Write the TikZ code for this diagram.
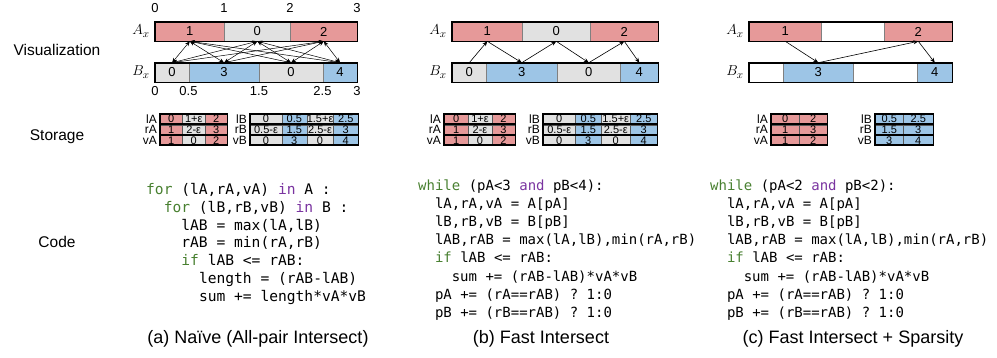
\documentclass[tikz,border=0pt]{standalone}
\usepackage{fontspec}
\setmainfont{Liberation Sans}
\setmonofont{DejaVu Sans Mono}
\usetikzlibrary{arrows.meta}

\definecolor{segred}{RGB}{230,153,153}
\definecolor{segblue}{RGB}{157,197,230}
\definecolor{seggray}{RGB}{225,225,225}
\definecolor{kwgreen}{RGB}{72,128,48}
\definecolor{kwpurple}{RGB}{122,52,160}

\tikzset{
  seg/.style={draw=gray, line width=0.6pt, inner sep=0pt, minimum height=19pt,
    anchor=west, font=\fontsize{13}{13}\selectfont},
  cell/.style={draw=gray!70!black, line width=0.6pt, inner sep=0pt, minimum height=9.3pt,
    text height=8pt, text depth=0pt, anchor=west, font=\fontsize{11}{11}\selectfont},
  rowlbl/.style={anchor=east, inner sep=0pt, text height=8.5pt, text depth=0pt,
    font=\fontsize{12}{12}\selectfont},
  tick/.style={inner sep=0pt, font=\fontsize{13}{13}\selectfont},
  axname/.style={inner sep=0pt, font=\fontsize{15}{15}\selectfont},
  frame/.style={line width=1.6pt},
  pass/.style={-{Stealth[length=5pt,width=4pt]}, line width=0.6pt},
  both/.style={{Stealth[length=5pt,width=4pt]}-{Stealth[length=5pt,width=4pt]}, line width=0.5pt},
  code/.style={anchor=base west, inner sep=0pt},
  title/.style={inner sep=0pt, font=\fontsize{15.5}{15.5}\selectfont},
  caption/.style={inner sep=0pt, font=\fontsize{18}{18}\selectfont},
}
\newcommand{\kw}[1]{\textcolor{kwgreen}{#1}}
\newcommand{\op}[1]{\textcolor{kwpurple}{#1}}
% one storage row: name, y, label, number of cells, cells
\newcommand{\storerow}[5]{%
  \foreach \xa/\xb/\v/\c [count=\k] in {#5}
    \node[cell, fill=\c, minimum width={\xb-\xa}] (#1-\k) at (\xa,#2) {\v};
  \draw[frame] (#1-1.north west) rectangle (#1-#4.south east);
  \node[rowlbl] (#1-lbl) at ([xshift=-3pt]#1-1.west) {#3};
}

\begin{document}
\begin{tikzpicture}[x=1pt,y=-1pt]
  \useasboundingbox (0,0) rectangle (997,357);

  % row titles
  \node[title] (vis) at (57,50) {Visualization};
  \node[title] (sto) at (57,137) {Storage};
  \node[title] (cod) at (57,242) {Code};

  %%%% (a) naive
  \foreach \nm/\xa/\xb/\v/\c in {A1/155/224/1/segred, A0/224/290/0/seggray, A2/290/357/2/segred}
    \node[seg, fill=\c, minimum width={\xb-\xa}] (a\nm) at (\xa,31.5) {\v};
  \foreach \nm/\xa/\xb/\v/\c in {B0/155/188.5/0/seggray, B3/188.5/259/3/segblue,
      B0b/259/322.5/0/seggray, B4/322.5/357/4/segblue}
    \node[seg, fill=\c, minimum width={\xb-\xa}] (a\nm) at (\xa,72.5) {\v};
  \draw[frame] (aA1.north west) rectangle (aA2.south east);
  \draw[frame] (aB0.north west) rectangle (aB4.south east);
  \node[axname] (aAx) at (141,31) {$A_x$};
  \node[axname] (aBx) at (141,72) {$B_x$};
  \foreach \x/\t [count=\i] in {155/0, 224/1, 290/2, 357/3}
    \node[tick] (aTop\i) at (\x,8) {\t};
  \foreach \x/\t [count=\i] in {155/0, 188.5/0.5, 259/1.5, 322.5/2.5, 357/3}
    \node[tick] (aBot\i) at (\x,91) {\t};
  % all pairs
  \foreach \s in {aA1,aA0,aA2}
    \foreach \t in {aB0,aB3,aB0b,aB4}
      \draw[both] (\s.south) -- (\t.north);

  % storage (a)
  \storerow{alA}{118.8}{lA}{3}{160/182/0/segred, 182/205/1+ε/seggray, 205/227/2/segred}
  \storerow{arA}{129.5}{rA}{3}{160/182/1/segred, 182/205/2-ε/seggray, 205/227/3/segred}
  \storerow{avA}{140.2}{vA}{3}{160/182/1/segred, 182/205/0/seggray, 205/227/2/segred}
  \storerow{alB}{118.8}{lB}{4}{250/281.5/0/seggray, 281.5/306.5/0.5/segblue, 306.5/333/1.5+ε/seggray, 333/358/2.5/segblue}
  \storerow{arB}{129.5}{rB}{4}{250/281.5/0.5-ε/seggray, 281.5/306.5/1.5/segblue, 306.5/333/2.5-ε/seggray, 333/358/3/segblue}
  \storerow{avB}{140.2}{vB}{4}{250/281.5/0/seggray, 281.5/306.5/3/segblue, 306.5/333/0/seggray, 333/358/4/segblue}

  % code (a)
  \foreach \n/\ind/\txt in {
      0/0/{\kw{for} (lA,rA,vA) \op{in} A :},
      1/2/{\kw{for} (lB,rB,vB) \op{in} B :},
      2/4/{lAB = max(lA,lB)},
      3/4/{rAB = min(rA,rB)},
      4/4/{\kw{if} lAB <= rAB:},
      5/6/{length = (rAB-lAB)},
      6/6/{sum += length*vA*vB}}
    \node[code, font=\ttfamily\fontsize{14.6}{14.6}\selectfont] (aCode\n) at (146+\ind*8.8,194.5+\n*17.8) {\txt};

  \node[caption] (capA) at (258,339) {(a) Naïve (All-pair Intersect)};

  %%%% (b) fast intersect
  \foreach \nm/\xa/\xb/\v/\c in {A1/452/522/1/segred, A0/522/590/0/seggray, A2/590/658/2/segred}
    \node[seg, fill=\c, minimum width={\xb-\xa}] (b\nm) at (\xa,31.5) {\v};
  \foreach \nm/\xa/\xb/\v/\c in {B0/452/486/0/seggray, B3/486/557/3/segblue,
      B0b/557/620/0/seggray, B4/620/658/4/segblue}
    \node[seg, fill=\c, minimum width={\xb-\xa}] (b\nm) at (\xa,72.5) {\v};
  \draw[frame] (bA1.north west) rectangle (bA2.south east);
  \draw[frame] (bB0.north west) rectangle (bB4.south east);
  \node[axname] (bAx) at (438,31) {$A_x$};
  \node[axname] (bBx) at (438,72) {$B_x$};
  \foreach \s/\t in {bB0/bA1, bB3/bA0, bB0b/bA2}
    \draw[pass] (\s.north) -- (\t.south);
  \foreach \s/\t in {bA1/bB3, bA0/bB0b, bA2/bB4}
    \draw[pass] (\s.south) -- (\t.north);

  % storage (b)
  \storerow{blA}{118.8}{lA}{3}{444/468/0/segred, 468/491.5/1+ε/seggray, 491.5/515/2/segred}
  \storerow{brA}{129.5}{rA}{3}{444/468/1/segred, 468/491.5/2-ε/seggray, 491.5/515/3/segred}
  \storerow{bvA}{140.2}{vA}{3}{444/468/1/segred, 468/491.5/0/seggray, 491.5/515/2/segred}
  \storerow{blB}{118.8}{lB}{4}{543/575/0/seggray, 575/601/0.5/segblue, 601/630/1.5+ε/seggray, 630/657/2.5/segblue}
  \storerow{brB}{129.5}{rB}{4}{543/575/0.5-ε/seggray, 575/601/1.5/segblue, 601/630/2.5-ε/seggray, 630/657/3/segblue}
  \storerow{bvB}{140.2}{vB}{4}{543/575/0/seggray, 575/601/3/segblue, 601/630/0/seggray, 630/657/4/segblue}

  % code (b)
  \foreach \n/\ind/\txt in {
      0/0/{\kw{while} (pA<3 \op{and} pB<4):},
      1/2/{lA,rA,vA = A[pA]},
      2/2/{lB,rB,vB = B[pB]},
      3/2/{lAB,rAB = max(lA,lB),min(rA,rB)},
      4/2/{\kw{if} lAB <= rAB:},
      5/4/{sum += (rAB-lAB)*vA*vB},
      6/2/{pA += (rA==rAB) ? 1:0},
      7/2/{pB += (rB==rAB) ? 1:0}}
    \node[code, font=\ttfamily\fontsize{14}{14}\selectfont] (bCode\n) at (418+\ind*8.4,190+\n*18.2) {\txt};

  \node[caption] (capB) at (541,339) {(b) Fast Intersect};

  %%%% (c) fast intersect + sparsity
  \foreach \nm/\xa/\xb/\v/\c in {A1/749/821/1/segred, A0/821/884//white, A2/884/952/2/segred}
    \node[seg, fill=\c, minimum width={\xb-\xa}] (c\nm) at (\xa,31.5) {\v};
  \foreach \nm/\xa/\xb/\v/\c in {B0/749/783//white, B3/783/853/3/segblue,
      B0b/853/917//white, B4/917/952/4/segblue}
    \node[seg, fill=\c, minimum width={\xb-\xa}] (c\nm) at (\xa,72.5) {\v};
  \draw[frame] (cA1.north west) rectangle (cA2.south east);
  \draw[frame] (cB0.north west) rectangle (cB4.south east);
  \node[axname] (cAx) at (735,31) {$A_x$};
  \node[axname] (cBx) at (735,72) {$B_x$};
  \draw[pass] (cA1.south) -- (cB3.north);
  \draw[pass] (cB3.north) -- (cA2.south);
  \draw[pass] (cA2.south) -- (cB4.north);

  % storage (c)
  \storerow{clA}{118.8}{lA}{2}{771/799/0/segred, 799/827/2/segred}
  \storerow{crA}{129.5}{rA}{2}{771/799/1/segred, 799/827/3/segred}
  \storerow{cvA}{140.2}{vA}{2}{771/799/1/segred, 799/827/2/segred}
  \storerow{clB}{118.8}{lB}{2}{875/903/0.5/segblue, 903/933/2.5/segblue}
  \storerow{crB}{129.5}{rB}{2}{875/903/1.5/segblue, 903/933/3/segblue}
  \storerow{cvB}{140.2}{vB}{2}{875/903/3/segblue, 903/933/4/segblue}

  % code (c)
  \foreach \n/\ind/\txt in {
      0/0/{\kw{while} (pA<2 \op{and} pB<2):},
      1/2/{lA,rA,vA = A[pA]},
      2/2/{lB,rB,vB = B[pB]},
      3/2/{lAB,rAB = max(lA,lB),min(rA,rB)},
      4/2/{\kw{if} lAB <= rAB:},
      5/4/{sum += (rAB-lAB)*vA*vB},
      6/2/{pA += (rA==rAB) ? 1:0},
      7/2/{pB += (rB==rAB) ? 1:0}}
    \node[code, font=\ttfamily\fontsize{14}{14}\selectfont] (cCode\n) at (710+\ind*8.4,190+\n*18.2) {\txt};

  \node[caption] (capC) at (853,339) {(c) Fast Intersect + Sparsity};
\end{tikzpicture}
\end{document}
